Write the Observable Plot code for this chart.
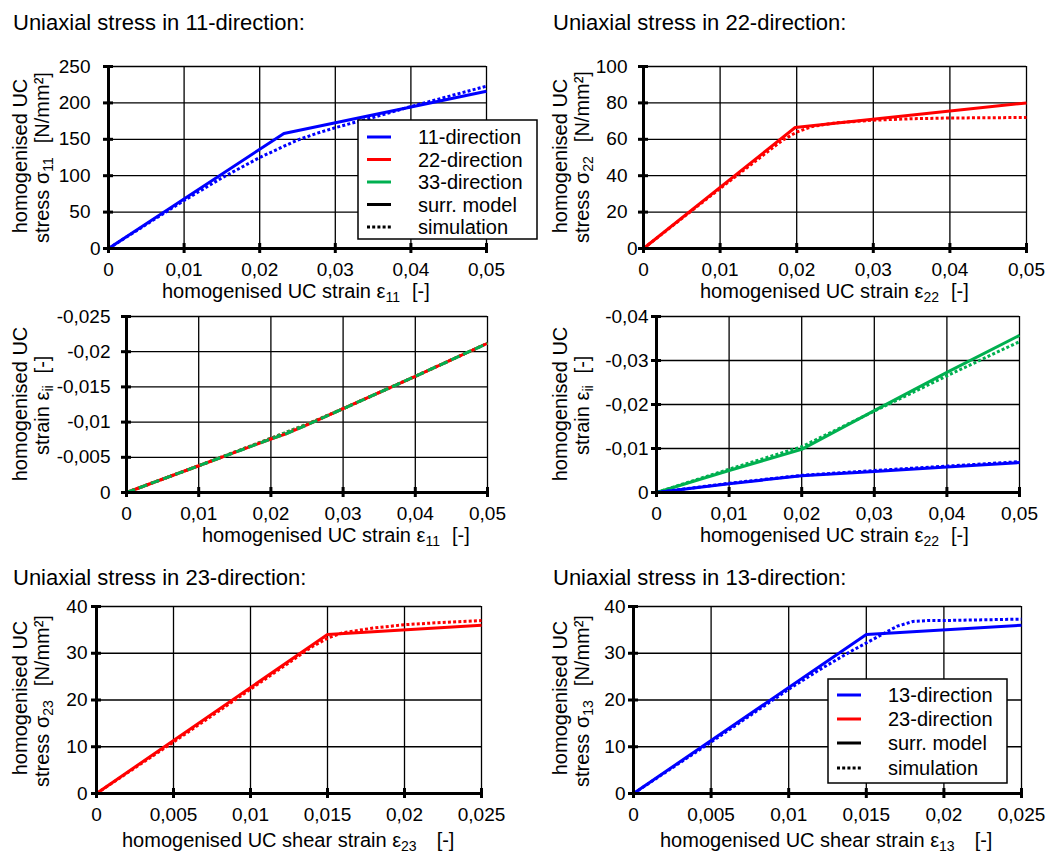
<!DOCTYPE html>
<html><head><meta charset="utf-8">
<script src="https://cdn.jsdelivr.net/npm/d3@7"></script>
<script src="https://cdn.jsdelivr.net/npm/@observablehq/plot@0.6"></script>
<style>
body{margin:0;background:#fff;}
#root{position:relative;width:1050px;height:853px;overflow:hidden;font-family:"Liberation Sans",Arial,sans-serif;background:#fff;}
</style></head><body><div id="root"></div>
<script>
const BLUE = "#0000ff", RED = "#ff0000", GREEN = "#00b050";

// ---- tick values ----
const strainTicks05 = [0, 0.01, 0.02, 0.03, 0.04, 0.05];
const strainTicks025 = [0, 0.005, 0.01, 0.015, 0.02, 0.025];
const stress11Ticks = [0, 50, 100, 150, 200, 250];
const stress22Ticks = [0, 20, 40, 60, 80, 100];
const transv11Ticks = [0, -0.005, -0.01, -0.015, -0.02, -0.025];
const transv22Ticks = [0, -0.01, -0.02, -0.03, -0.04];
const shearStressTicks = [0, 10, 20, 30, 40];

// ---- panel 1: sigma11 vs eps11 ----
const p1ModelX = [0, 0.0232, 0.05];
const p1ModelY = [0, 158, 216];
const p1SimX = [0, 0.005, 0.01, 0.015, 0.02, 0.0225, 0.025, 0.0275, 0.03, 0.035, 0.04, 0.045, 0.05];
const p1SimY = [0, 33, 66, 97, 125, 137, 149, 158, 166, 180, 195, 209, 223];

// ---- panel 2: sigma22 vs eps22 ----
const p2ModelX = [0, 0.0198, 0.05];
const p2ModelY = [0, 66.5, 80];
const p2SimX = [0, 0.01, 0.018, 0.02, 0.022, 0.025, 0.03, 0.035, 0.04, 0.05];
const p2SimY = [0, 33, 59, 64, 67, 69, 70.5, 71.3, 71.7, 72];

// ---- panel 3: transverse strains vs eps11 (22 and 33 coincide) ----
const p3ModelX = [0, 0.01, 0.02, 0.022, 0.025, 0.03, 0.04, 0.05];
const p3ModelY = [0, -0.0038, -0.0076, -0.0083, -0.0096, -0.0119, -0.0165, -0.0212];
const p3SimX = [0, 0.01, 0.02, 0.025, 0.03, 0.04, 0.05];
const p3SimY = [0, -0.0038, -0.0077, -0.0097, -0.0119, -0.0165, -0.0212];

// ---- panel 4: transverse strains vs eps22 ----
const p4GreenModelX = [0, 0.01, 0.02, 0.03, 0.04, 0.05];
const p4GreenModelY = [0, -0.005, -0.0098, -0.0186, -0.0273, -0.0357];
const p4GreenSimX = [0, 0.01, 0.02, 0.03, 0.04, 0.05];
const p4GreenSimY = [0, -0.0053, -0.0104, -0.0185, -0.0265, -0.0343];
const p4BlueModelX = [0, 0.01, 0.02, 0.03, 0.04, 0.05];
const p4BlueModelY = [0, -0.002, -0.0038, -0.0048, -0.0058, -0.0068];
const p4BlueSimX = [0, 0.01, 0.02, 0.03, 0.04, 0.05];
const p4BlueSimY = [0, -0.0021, -0.0039, -0.005, -0.006, -0.007];

// ---- panel 5: sigma23 vs eps23 ----
const p5ModelX = [0, 0.015, 0.025];
const p5ModelY = [0, 34, 36];
const p5SimX = [0, 0.005, 0.01, 0.014, 0.015, 0.016, 0.018, 0.02, 0.0225, 0.025];
const p5SimY = [0, 11, 22.3, 31.4, 33.2, 34.4, 35.4, 36.1, 36.6, 37];

// ---- panel 6: sigma13 vs eps13 ----
const p6ModelX = [0, 0.015, 0.025];
const p6ModelY = [0, 34, 36];
const p6SimX = [0, 0.005, 0.01, 0.012, 0.014, 0.015, 0.016, 0.017, 0.018, 0.019, 0.02, 0.025];
const p6SimY = [0, 11, 22.3, 26.5, 30.4, 32.2, 34, 35.8, 36.8, 37, 37, 37.3];

const SOLID = null, DOTTED = "3,2.2";
const pairs = (xs, ys) => xs.map((x, i) => ({x, y: ys[i]}));

const panels = [
  {L:108, T:66, R:486, B:248, xd:[0,0.05], yd:[0,250], xt:strainTicks05, yt:stress11Ticks, yPad:18, zeroPad:8,
   series:[{x:p1SimX,y:p1SimY,c:BLUE,d:DOTTED},{x:p1ModelX,y:p1ModelY,c:BLUE,d:SOLID}]},
  {L:643, T:66, R:1026, B:248, xd:[0,0.05], yd:[0,100], xt:strainTicks05, yt:stress22Ticks, yPad:16, zeroPad:6,
   series:[{x:p2SimX,y:p2SimY,c:RED,d:DOTTED},{x:p2ModelX,y:p2ModelY,c:RED,d:SOLID}]},
  {L:126, T:316, R:487, B:492, xd:[0,0.05], yd:[0,-0.025], xt:strainTicks05, yt:transv11Ticks, yPad:16,
   series:[{x:p3SimX,y:p3SimY,c:RED,d:DOTTED},{x:p3SimX,y:p3SimY,c:GREEN,d:DOTTED},
           {x:p3ModelX,y:p3ModelY,c:RED,d:SOLID},{x:p3ModelX,y:p3ModelY,c:GREEN,d:"9,4"}]},
  {L:656, T:316, R:1019, B:492, xd:[0,0.05], yd:[0,-0.04], xt:strainTicks05, yt:transv22Ticks, yPad:8,
   series:[{x:p4GreenSimX,y:p4GreenSimY,c:GREEN,d:DOTTED},{x:p4GreenModelX,y:p4GreenModelY,c:GREEN,d:SOLID},
           {x:p4BlueSimX,y:p4BlueSimY,c:BLUE,d:DOTTED},{x:p4BlueModelX,y:p4BlueModelY,c:BLUE,d:SOLID}]},
  {L:96, T:606, R:481, B:793, xd:[0,0.025], yd:[0,40], xt:strainTicks025, yt:shearStressTicks, yPad:9,
   series:[{x:p5SimX,y:p5SimY,c:RED,d:DOTTED},{x:p5ModelX,y:p5ModelY,c:RED,d:SOLID}]},
  {L:633, T:606, R:1021, B:793, xd:[0,0.025], yd:[0,40], xt:strainTicks025, yt:shearStressTicks, yPad:8,
   series:[{x:p6SimX,y:p6SimY,c:BLUE,d:DOTTED},{x:p6ModelX,y:p6ModelY,c:BLUE,d:SOLID}]}
];

const root = document.getElementById("root");
const fmt = d => String(d).replace(".", ",");
const mL = 100, mR = 30, mT = 20, mB = 45;

for (const p of panels) {
  const W = p.R - p.L, H = p.B - p.T;
  const marks = [
    Plot.gridX(p.xt, {stroke:"#000", strokeOpacity:1, strokeWidth:1.3}),
    Plot.gridY(p.yt, {stroke:"#000", strokeOpacity:1, strokeWidth:1.3})
  ];
  for (const s of p.series) {
    marks.push(Plot.line(pairs(s.x, s.y), {x:"x", y:"y", stroke:s.c, strokeWidth:3,
      strokeDasharray:s.d, strokeLinecap:"butt", strokeLinejoin:"round"}));
  }
  marks.push(
    Plot.ruleX([0], {strokeWidth:3}),
    Plot.ruleY([0], {strokeWidth:3}),
    Plot.tickX(p.xt, {x:d=>d, strokeWidth:3, insetTop:H-5, insetBottom:-5}),
    Plot.tickY(p.yt, {y:d=>d, strokeWidth:3, insetLeft:-5, insetRight:W-5}),
    Plot.axisX(p.xt, {tickSize:0, tickPadding:14, tickFormat:fmt, label:null}),
    Plot.axisY(p.zeroPad != null ? p.yt.filter(d=>d!==0) : p.yt, {tickSize:0, tickPadding:p.yPad, tickFormat:fmt, label:null})
  );
  if (p.zeroPad != null) marks.push(Plot.axisY([0], {tickSize:0, tickPadding:p.zeroPad, tickFormat:fmt, label:null}));
  const chart = Plot.plot({
    width: W + mL + mR, height: H + mT + mB,
    marginLeft: mL, marginRight: mR, marginTop: mT, marginBottom: mB,
    x: {domain: p.xd, axis: null},
    y: {domain: p.yd, axis: null},
    style: {position:"absolute", left:(p.L-mL)+"px", top:(p.T-mT)+"px", background:"transparent",
            overflow:"visible", fontSize:"19px", fontFamily:'"Liberation Sans", Arial, sans-serif', color:"#000", maxWidth:"none"},
    marks
  });
  root.appendChild(chart);
}

// ---- text overlay: titles, axis labels, legends ----
const ov = d3.select(root).append("svg")
  .attr("width", 1050).attr("height", 853)
  .style("position","absolute").style("left","0px").style("top","0px").style("pointer-events","none")
  .style("font-family",'"Liberation Sans", Arial, sans-serif');

function addText(x, y, parts, {rotate=false, anchor="start", size=20} = {}) {
  const t = ov.append("text").attr("text-anchor", anchor).attr("font-size", size).attr("fill", "#000");
  if (rotate) t.attr("transform", `translate(${x},${y}) rotate(-90)`);
  else t.attr("x", x).attr("y", y);
  let low = false;
  for (const part of parts) {
    const ts = t.append("tspan").text(part.t);
    let dy = 0;
    if (part.sub) { ts.attr("font-size", 14); if (!low) { dy = 4; low = true; } }
    else if (low) { dy = -4; low = false; }
    if (dy) ts.attr("dy", dy);
    if (part.dx) ts.attr("dx", part.dx);
  }
  return t;
}

const titles = [
  {x:13, y:30, t:"Uniaxial stress in 11-direction:"},
  {x:553, y:30, t:"Uniaxial stress in 22-direction:"},
  {x:13, y:585, t:"Uniaxial stress in 23-direction:"},
  {x:553, y:585, t:"Uniaxial stress in 13-direction:"}
];
for (const tt of titles) addText(tt.x, tt.y, [{t:tt.t}], {size:22});

// x-axis labels
addText(162, 298, [{t:"homogenised UC strain ε"},{t:"11",sub:true},{t:"[-]",dx:12}]);
addText(700, 298, [{t:"homogenised UC strain ε"},{t:"22",sub:true},{t:"[-]",dx:12}]);
addText(202, 542, [{t:"homogenised UC strain ε"},{t:"11",sub:true},{t:"[-]",dx:12}]);
addText(700, 542, [{t:"homogenised UC strain ε"},{t:"22",sub:true},{t:"[-]",dx:12}]);
addText(122, 847, [{t:"homogenised UC shear strain ε"},{t:"23",sub:true},{t:"[-]",dx:20}]);
addText(660, 847, [{t:"homogenised UC shear strain ε"},{t:"13",sub:true},{t:"[-]",dx:20}]);

// y-axis labels (two rotated lines)
const ylabs = [
  {c1x:26.5, c1y:156, c2x:49, c2y:243, sym:"stress σ", sub:"11", unit:"[N/mm²]", gap:14},
  {c1x:566.5, c1y:156, c2x:589, c2y:243, sym:"stress σ", sub:"22", unit:"[N/mm²]", gap:14},
  {c1x:26.5, c1y:404, c2x:49, c2y:455, sym:"strain ε", sub:"ii", unit:"[-]", gap:12},
  {c1x:566.5, c1y:404, c2x:589, c2y:455, sym:"strain ε", sub:"ii", unit:"[-]", gap:12},
  {c1x:26.5, c1y:698, c2x:49, c2y:787, sym:"stress σ", sub:"23", unit:"[N/mm²]", gap:14},
  {c1x:566.5, c1y:698, c2x:589, c2y:787, sym:"stress σ", sub:"13", unit:"[N/mm²]", gap:14}
];
for (const l of ylabs) {
  addText(l.c1x, l.c1y, [{t:"homogenised UC"}], {rotate:true, anchor:"middle"});
  addText(l.c2x, l.c2y, [{t:l.sym},{t:l.sub,sub:true},{t:l.unit,dx:l.gap}], {rotate:true, anchor:"start"});
}

// legends
const legend1Labels = ["11-direction","22-direction","33-direction","surr. model","simulation"];
const legend1Colors = [BLUE, RED, GREEN, "#000", "#000"];
const legend1Dash = [null, null, null, null, DOTTED];
const legend6Labels = ["13-direction","23-direction","surr. model","simulation"];
const legend6Colors = [BLUE, RED, "#000", "#000"];
const legend6Dash = [null, null, null, DOTTED];

function legend(box, rows, lx1, lx2, tx, labels, colors, dashes) {
  ov.append("rect").attr("x", box[0]).attr("y", box[1]).attr("width", box[2]-box[0]).attr("height", box[3]-box[1])
    .attr("fill", "#fff").attr("stroke", "#000").attr("stroke-width", 1.5);
  labels.forEach((lab, i) => {
    const ln = ov.append("line").attr("x1", lx1).attr("x2", lx2).attr("y1", rows[i]).attr("y2", rows[i])
      .attr("stroke", colors[i]).attr("stroke-width", 3);
    if (dashes[i]) ln.attr("stroke-dasharray", dashes[i]);
    addText(tx, rows[i] + 7, [{t:lab}]);
  });
}
legend([358,120,537,239], [137,159.5,182,204.5,227], 367, 391, 418, legend1Labels, legend1Colors, legend1Dash);
legend([828,679,1007,783], [695,719,743,768], 837, 861, 888, legend6Labels, legend6Colors, legend6Dash);
</script>
</body></html>
